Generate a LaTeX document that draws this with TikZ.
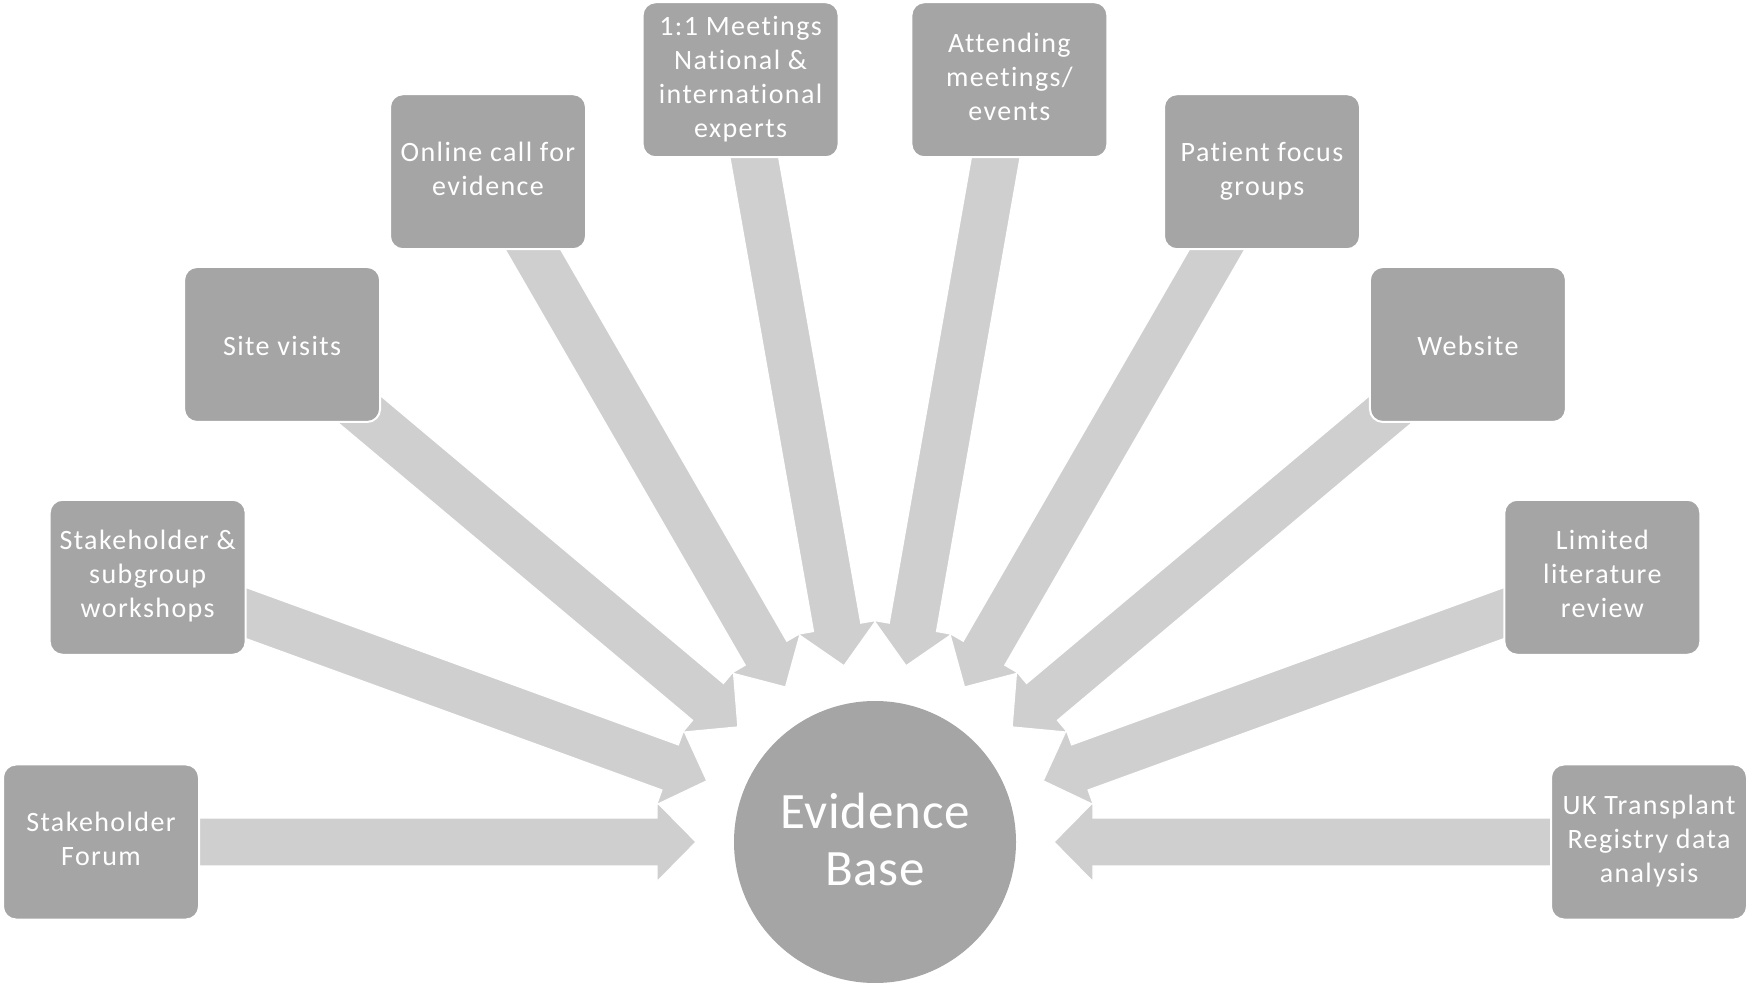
\documentclass[tikz,border=0pt]{standalone}
\usepackage{fontspec}
\setmainfont{Carlito}[LetterSpace=5,Ligatures=NoCommon]
\newfontfamily\hubfont{Carlito}[LetterSpace=1.5,Ligatures=NoCommon]
\usetikzlibrary{calc}
\definecolor{boxgray}{RGB}{165,165,165}
\definecolor{arrowgray}{RGB}{207,207,207}
\pgfdeclarelayer{bg}
\pgfsetlayers{bg,main}
\newcommand\lstrut{\rule[-6pt]{0pt}{34pt}}
\newcommand\hstrut{\rule[-6pt]{0pt}{0pt}}
\newcommand\blkarrow[2]{%
  \filldraw[arrowstyle] (#2) -- ($(#2)!55.5pt!45.4:(#1)$) -- ($(#2)!45.8pt!31.6:(#1)$)
    -- ($(#1)!24pt!-90:(#2)$) -- ($(#1)!24pt!90:(#2)$)
    -- ($(#2)!45.8pt!-31.6:(#1)$) -- ($(#2)!55.5pt!-45.4:(#1)$) -- cycle;}
\tikzset{
  srcbox/.style={draw=white, line width=2pt, fill=boxgray, rounded corners=13pt,
    minimum width=196pt, minimum height=155pt, inner sep=0pt, align=center,
    text=white, font=\fontsize{28pt}{34pt}\selectfont,
    execute at begin node=\lstrut, execute at end node=\lstrut},
  hub/.style={circle, fill=boxgray, minimum size=282pt, inner sep=0pt, align=center,
    text=white, font=\hubfont\fontsize{51pt}{57pt}\selectfont,
    execute at end node=\hstrut},
  arrowstyle/.style={fill=arrowgray, draw=white, line width=1.2pt, line join=miter}
}
\begin{document}
\begin{tikzpicture}
\useasboundingbox (0,0) rectangle (1749pt,986pt);
\coordinate (C) at (875pt,144pt);
\node[hub] (hub) at (C) {Evidence\\Base};
\node[srcbox] (b1) at ($(C)+(180:774pt)$) {Stakeholder\\Forum};
\node[srcbox] (b2) at ($(C)+(160:774pt)$) {Stakeholder \&\\subgroup\\workshops};
\node[srcbox] (b3) at ($(C)+(140:774pt)$) {Site visits};
\node[srcbox] (b4) at ($(C)+(120:774pt)$) {Online call for\\evidence};
\node[srcbox] (b5) at ($(C)+(100:774pt)$) {1:1 Meetings\\National \&\\international\\experts};
\node[srcbox] (b6) at ($(C)+(80:774pt)$) {Attending\\meetings/\\events};
\node[srcbox] (b7) at ($(C)+(60:774pt)$) {Patient focus\\groups};
\node[srcbox] (b8) at ($(C)+(40:774pt)$) {Website};
\node[srcbox] (b9) at ($(C)+(20:774pt)$) {Limited\\literature\\review};
\node[srcbox] (b10) at ($(C)+(0:774pt)$) {UK Transplant\\Registry data\\analysis};
\foreach \i/\a in {1/180,2/160,3/140,4/120,5/100,6/80,7/60,8/40,9/20,10/0}{
  \coordinate (t\i) at ($(C)+(\a:179pt)$);
}
\begin{pgfonlayer}{bg}
\foreach \i in {1,...,10}{\blkarrow{b\i}{t\i}}
\end{pgfonlayer}
\end{tikzpicture}
\end{document}
